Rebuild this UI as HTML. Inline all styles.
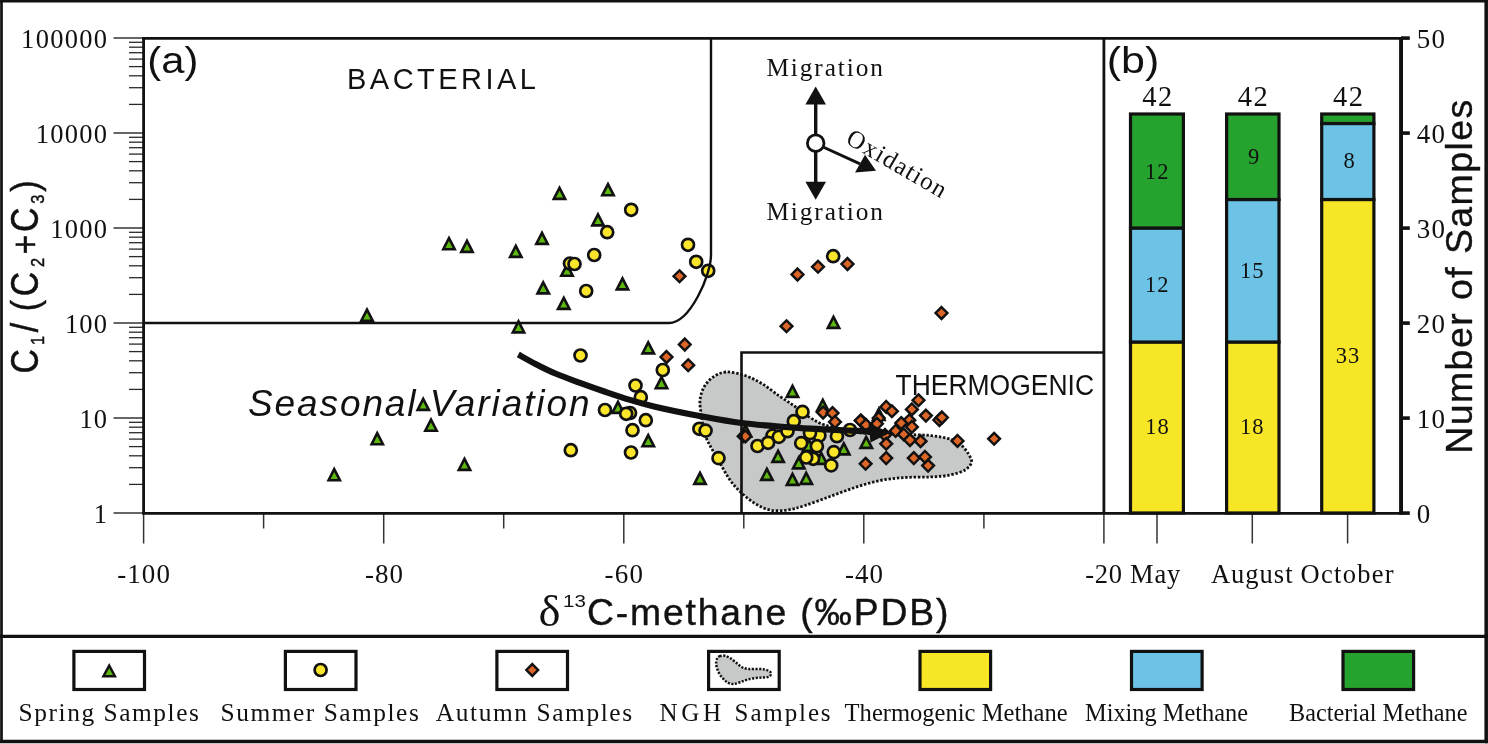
<!DOCTYPE html>
<html><head><meta charset="utf-8"><title>Figure</title>
<style>html,body{margin:0;padding:0;background:#fff}svg{display:block}</style></head>
<body>
<svg width="1488" height="744" viewBox="0 0 1488 744">
<rect x="0" y="0" width="1488" height="744" fill="#fff"/>
<path d="M0,1.25 H1488 M1.5,0 V743 M1486.2,0 V743.2 M0,741.5 H1488" fill="none" stroke="#111" stroke-width="2.7"/><path d="M1486.2,0 V743.2 M0,741.5 H1488" fill="none" stroke="#111" stroke-width="3.4"/>
<line x1="0" y1="636.4" x2="1488" y2="636.4" stroke="#111" stroke-width="3.2"/>
<line x1="113.5" y1="513.0" x2="143.6" y2="513.0" stroke="#333" stroke-width="1.5"/>
<line x1="129" y1="484.4" x2="143.6" y2="484.4" stroke="#2a2a2a" stroke-width="1.3"/>
<line x1="129" y1="467.7" x2="143.6" y2="467.7" stroke="#2a2a2a" stroke-width="1.3"/>
<line x1="129" y1="455.8" x2="143.6" y2="455.8" stroke="#2a2a2a" stroke-width="1.3"/>
<line x1="129" y1="446.6" x2="143.6" y2="446.6" stroke="#2a2a2a" stroke-width="1.3"/>
<line x1="129" y1="439.1" x2="143.6" y2="439.1" stroke="#2a2a2a" stroke-width="1.3"/>
<line x1="129" y1="432.7" x2="143.6" y2="432.7" stroke="#2a2a2a" stroke-width="1.3"/>
<line x1="129" y1="427.2" x2="143.6" y2="427.2" stroke="#2a2a2a" stroke-width="1.3"/>
<line x1="129" y1="422.3" x2="143.6" y2="422.3" stroke="#2a2a2a" stroke-width="1.3"/>
<line x1="113.5" y1="418.0" x2="143.6" y2="418.0" stroke="#333" stroke-width="1.5"/>
<line x1="129" y1="389.4" x2="143.6" y2="389.4" stroke="#2a2a2a" stroke-width="1.3"/>
<line x1="129" y1="372.7" x2="143.6" y2="372.7" stroke="#2a2a2a" stroke-width="1.3"/>
<line x1="129" y1="360.8" x2="143.6" y2="360.8" stroke="#2a2a2a" stroke-width="1.3"/>
<line x1="129" y1="351.6" x2="143.6" y2="351.6" stroke="#2a2a2a" stroke-width="1.3"/>
<line x1="129" y1="344.1" x2="143.6" y2="344.1" stroke="#2a2a2a" stroke-width="1.3"/>
<line x1="129" y1="337.7" x2="143.6" y2="337.7" stroke="#2a2a2a" stroke-width="1.3"/>
<line x1="129" y1="332.2" x2="143.6" y2="332.2" stroke="#2a2a2a" stroke-width="1.3"/>
<line x1="129" y1="327.3" x2="143.6" y2="327.3" stroke="#2a2a2a" stroke-width="1.3"/>
<line x1="113.5" y1="323.0" x2="143.6" y2="323.0" stroke="#333" stroke-width="1.5"/>
<line x1="129" y1="294.4" x2="143.6" y2="294.4" stroke="#2a2a2a" stroke-width="1.3"/>
<line x1="129" y1="277.7" x2="143.6" y2="277.7" stroke="#2a2a2a" stroke-width="1.3"/>
<line x1="129" y1="265.8" x2="143.6" y2="265.8" stroke="#2a2a2a" stroke-width="1.3"/>
<line x1="129" y1="256.6" x2="143.6" y2="256.6" stroke="#2a2a2a" stroke-width="1.3"/>
<line x1="129" y1="249.1" x2="143.6" y2="249.1" stroke="#2a2a2a" stroke-width="1.3"/>
<line x1="129" y1="242.7" x2="143.6" y2="242.7" stroke="#2a2a2a" stroke-width="1.3"/>
<line x1="129" y1="237.2" x2="143.6" y2="237.2" stroke="#2a2a2a" stroke-width="1.3"/>
<line x1="129" y1="232.3" x2="143.6" y2="232.3" stroke="#2a2a2a" stroke-width="1.3"/>
<line x1="113.5" y1="228.0" x2="143.6" y2="228.0" stroke="#333" stroke-width="1.5"/>
<line x1="129" y1="199.4" x2="143.6" y2="199.4" stroke="#2a2a2a" stroke-width="1.3"/>
<line x1="129" y1="182.7" x2="143.6" y2="182.7" stroke="#2a2a2a" stroke-width="1.3"/>
<line x1="129" y1="170.8" x2="143.6" y2="170.8" stroke="#2a2a2a" stroke-width="1.3"/>
<line x1="129" y1="161.6" x2="143.6" y2="161.6" stroke="#2a2a2a" stroke-width="1.3"/>
<line x1="129" y1="154.1" x2="143.6" y2="154.1" stroke="#2a2a2a" stroke-width="1.3"/>
<line x1="129" y1="147.7" x2="143.6" y2="147.7" stroke="#2a2a2a" stroke-width="1.3"/>
<line x1="129" y1="142.2" x2="143.6" y2="142.2" stroke="#2a2a2a" stroke-width="1.3"/>
<line x1="129" y1="137.3" x2="143.6" y2="137.3" stroke="#2a2a2a" stroke-width="1.3"/>
<line x1="113.5" y1="133.0" x2="143.6" y2="133.0" stroke="#333" stroke-width="1.5"/>
<line x1="129" y1="104.4" x2="143.6" y2="104.4" stroke="#2a2a2a" stroke-width="1.3"/>
<line x1="129" y1="87.7" x2="143.6" y2="87.7" stroke="#2a2a2a" stroke-width="1.3"/>
<line x1="129" y1="75.8" x2="143.6" y2="75.8" stroke="#2a2a2a" stroke-width="1.3"/>
<line x1="129" y1="66.6" x2="143.6" y2="66.6" stroke="#2a2a2a" stroke-width="1.3"/>
<line x1="129" y1="59.1" x2="143.6" y2="59.1" stroke="#2a2a2a" stroke-width="1.3"/>
<line x1="129" y1="52.7" x2="143.6" y2="52.7" stroke="#2a2a2a" stroke-width="1.3"/>
<line x1="129" y1="47.2" x2="143.6" y2="47.2" stroke="#2a2a2a" stroke-width="1.3"/>
<line x1="129" y1="42.3" x2="143.6" y2="42.3" stroke="#2a2a2a" stroke-width="1.3"/>
<line x1="113.5" y1="38.0" x2="143.6" y2="38.0" stroke="#333" stroke-width="1.5"/>
<line x1="143.6" y1="513" x2="143.6" y2="543.5" stroke="#333" stroke-width="1.5"/>
<line x1="263.6" y1="513" x2="263.6" y2="528.5" stroke="#333" stroke-width="1.5"/>
<line x1="383.7" y1="513" x2="383.7" y2="543.5" stroke="#333" stroke-width="1.5"/>
<line x1="503.7" y1="513" x2="503.7" y2="528.5" stroke="#333" stroke-width="1.5"/>
<line x1="623.8" y1="513" x2="623.8" y2="543.5" stroke="#333" stroke-width="1.5"/>
<line x1="743.8" y1="513" x2="743.8" y2="528.5" stroke="#333" stroke-width="1.5"/>
<line x1="863.8" y1="513" x2="863.8" y2="543.5" stroke="#333" stroke-width="1.5"/>
<line x1="983.9" y1="513" x2="983.9" y2="528.5" stroke="#333" stroke-width="1.5"/>
<line x1="1103.9" y1="513" x2="1103.9" y2="543.5" stroke="#333" stroke-width="1.5"/>
<line x1="1157" y1="513" x2="1157" y2="543.5" stroke="#333" stroke-width="1.5"/>
<line x1="1252.3" y1="513" x2="1252.3" y2="543.5" stroke="#333" stroke-width="1.5"/>
<line x1="1347.6" y1="513" x2="1347.6" y2="543.5" stroke="#333" stroke-width="1.5"/>
<path d="M726.0,372.0C720.6,372.3 716.2,374.9 712.5,377.5C708.8,380.1 705.8,383.8 703.8,387.5C701.7,391.2 700.5,395.8 700.0,400.0C699.5,404.2 700.5,408.7 701.0,413.0C701.5,417.3 702.1,421.8 703.0,426.0C703.9,430.2 704.9,434.5 706.5,438.5C708.1,442.5 710.1,445.6 712.5,450.0C714.9,454.4 718.1,460.0 721.0,465.0C723.9,470.0 726.7,475.4 730.0,480.0C733.3,484.6 736.8,488.6 741.0,492.5C745.2,496.4 750.2,500.6 755.0,503.5C759.8,506.4 764.6,508.9 770.0,510.0C775.4,511.1 781.7,510.8 787.5,510.0C793.3,509.2 797.9,507.8 805.0,505.5C812.1,503.2 821.7,499.5 830.0,496.5C838.3,493.5 846.7,490.2 855.0,487.5C863.3,484.8 871.7,482.2 880.0,480.5C888.3,478.8 896.7,478.1 905.0,477.5C913.3,476.9 922.5,477.4 930.0,477.0C937.5,476.6 944.2,476.2 950.0,475.0C955.8,473.8 961.4,472.2 965.0,470.0C968.6,467.8 971.1,464.9 971.5,462.0C971.9,459.1 969.4,455.5 967.5,452.5C965.6,449.5 962.9,446.2 960.0,444.0C957.1,441.8 955.0,440.4 950.0,439.0C945.0,437.6 937.5,436.2 930.0,435.5C922.5,434.8 913.3,434.8 905.0,434.5C896.7,434.2 888.3,434.4 880.0,434.0C871.7,433.6 864.2,433.5 855.0,432.0C845.8,430.5 832.5,427.4 825.0,425.0C817.5,422.6 815.0,420.6 810.0,417.5C805.0,414.4 800.0,410.0 795.0,406.5C790.0,403.0 785.4,400.2 780.0,396.5C774.6,392.8 768.3,387.5 762.5,384.0C756.7,380.5 751.1,377.5 745.0,375.5C738.9,373.5 731.4,371.7 726.0,372.0Z" fill="#c6c9c8" stroke="#111" stroke-width="2.8" stroke-dasharray="2.4 1.8"/>
<path d="M367.0,309.6 L372.7,320.7 L361.3,320.7 Z" fill="#5cb80f" stroke="#111" stroke-width="2.6" stroke-linejoin="miter"/>
<path d="M449.0,238.2 L454.7,249.2 L443.3,249.2 Z" fill="#5cb80f" stroke="#111" stroke-width="2.6" stroke-linejoin="miter"/>
<path d="M467.0,240.9 L472.7,251.9 L461.3,251.9 Z" fill="#5cb80f" stroke="#111" stroke-width="2.6" stroke-linejoin="miter"/>
<path d="M515.8,245.9 L521.5,256.9 L510.1,256.9 Z" fill="#5cb80f" stroke="#111" stroke-width="2.6" stroke-linejoin="miter"/>
<path d="M542.0,232.9 L547.7,243.9 L536.3,243.9 Z" fill="#5cb80f" stroke="#111" stroke-width="2.6" stroke-linejoin="miter"/>
<path d="M559.5,187.9 L565.2,198.9 L553.8,198.9 Z" fill="#5cb80f" stroke="#111" stroke-width="2.6" stroke-linejoin="miter"/>
<path d="M608.0,184.2 L613.7,195.2 L602.3,195.2 Z" fill="#5cb80f" stroke="#111" stroke-width="2.6" stroke-linejoin="miter"/>
<path d="M598.0,214.4 L603.7,225.4 L592.3,225.4 Z" fill="#5cb80f" stroke="#111" stroke-width="2.6" stroke-linejoin="miter"/>
<path d="M567.0,264.6 L572.7,275.7 L561.3,275.7 Z" fill="#5cb80f" stroke="#111" stroke-width="2.6" stroke-linejoin="miter"/>
<path d="M543.2,282.4 L549.0,293.4 L537.5,293.4 Z" fill="#5cb80f" stroke="#111" stroke-width="2.6" stroke-linejoin="miter"/>
<path d="M563.8,297.9 L569.5,308.9 L558.0,308.9 Z" fill="#5cb80f" stroke="#111" stroke-width="2.6" stroke-linejoin="miter"/>
<path d="M622.5,278.4 L628.2,289.4 L616.8,289.4 Z" fill="#5cb80f" stroke="#111" stroke-width="2.6" stroke-linejoin="miter"/>
<path d="M518.5,321.4 L524.2,332.4 L512.8,332.4 Z" fill="#5cb80f" stroke="#111" stroke-width="2.6" stroke-linejoin="miter"/>
<path d="M648.2,342.4 L654.0,353.4 L642.5,353.4 Z" fill="#5cb80f" stroke="#111" stroke-width="2.6" stroke-linejoin="miter"/>
<path d="M334.2,469.1 L339.9,480.2 L328.6,480.2 Z" fill="#5cb80f" stroke="#111" stroke-width="2.6" stroke-linejoin="miter"/>
<path d="M377.2,433.1 L382.9,444.2 L371.6,444.2 Z" fill="#5cb80f" stroke="#111" stroke-width="2.6" stroke-linejoin="miter"/>
<path d="M423.2,398.9 L428.9,409.9 L417.6,409.9 Z" fill="#5cb80f" stroke="#111" stroke-width="2.6" stroke-linejoin="miter"/>
<path d="M431.0,419.6 L436.7,430.7 L425.3,430.7 Z" fill="#5cb80f" stroke="#111" stroke-width="2.6" stroke-linejoin="miter"/>
<path d="M464.5,458.9 L470.2,469.9 L458.8,469.9 Z" fill="#5cb80f" stroke="#111" stroke-width="2.6" stroke-linejoin="miter"/>
<path d="M661.5,377.1 L667.2,388.2 L655.8,388.2 Z" fill="#5cb80f" stroke="#111" stroke-width="2.6" stroke-linejoin="miter"/>
<path d="M618.0,401.9 L623.7,412.9 L612.3,412.9 Z" fill="#5cb80f" stroke="#111" stroke-width="2.6" stroke-linejoin="miter"/>
<path d="M648.2,435.1 L654.0,446.2 L642.5,446.2 Z" fill="#5cb80f" stroke="#111" stroke-width="2.6" stroke-linejoin="miter"/>
<path d="M833.5,316.9 L839.2,327.9 L827.8,327.9 Z" fill="#5cb80f" stroke="#111" stroke-width="2.6" stroke-linejoin="miter"/>
<path d="M792.5,385.9 L798.2,396.9 L786.8,396.9 Z" fill="#5cb80f" stroke="#111" stroke-width="2.6" stroke-linejoin="miter"/>
<path d="M822.8,399.9 L828.5,410.9 L817.0,410.9 Z" fill="#5cb80f" stroke="#111" stroke-width="2.6" stroke-linejoin="miter"/>
<path d="M778.1,450.9 L783.8,461.9 L772.4,461.9 Z" fill="#5cb80f" stroke="#111" stroke-width="2.6" stroke-linejoin="miter"/>
<path d="M766.9,468.9 L772.6,479.9 L761.2,479.9 Z" fill="#5cb80f" stroke="#111" stroke-width="2.6" stroke-linejoin="miter"/>
<path d="M700.0,472.9 L705.7,483.9 L694.3,483.9 Z" fill="#5cb80f" stroke="#111" stroke-width="2.6" stroke-linejoin="miter"/>
<path d="M792.5,473.9 L798.2,484.9 L786.8,484.9 Z" fill="#5cb80f" stroke="#111" stroke-width="2.6" stroke-linejoin="miter"/>
<path d="M806.2,472.9 L812.0,483.9 L800.5,483.9 Z" fill="#5cb80f" stroke="#111" stroke-width="2.6" stroke-linejoin="miter"/>
<path d="M798.8,457.4 L804.5,468.4 L793.0,468.4 Z" fill="#5cb80f" stroke="#111" stroke-width="2.6" stroke-linejoin="miter"/>
<path d="M843.8,443.4 L849.5,454.4 L838.0,454.4 Z" fill="#5cb80f" stroke="#111" stroke-width="2.6" stroke-linejoin="miter"/>
<path d="M866.2,436.9 L872.0,447.9 L860.5,447.9 Z" fill="#5cb80f" stroke="#111" stroke-width="2.6" stroke-linejoin="miter"/>
<path d="M821.2,452.9 L827.0,463.9 L815.5,463.9 Z" fill="#5cb80f" stroke="#111" stroke-width="2.6" stroke-linejoin="miter"/>
<path d="M808.8,439.9 L814.5,450.9 L803.0,450.9 Z" fill="#5cb80f" stroke="#111" stroke-width="2.6" stroke-linejoin="miter"/>
<path d="M745.5,425.4 L751.2,436.4 L739.8,436.4 Z" fill="#5cb80f" stroke="#111" stroke-width="2.6" stroke-linejoin="miter"/>
<path d="M878.8,408.9 L884.5,419.9 L873.0,419.9 Z" fill="#5cb80f" stroke="#111" stroke-width="2.6" stroke-linejoin="miter"/>
<path d="M679.5,270.4 L685.4,276.2 L679.5,282.1 L673.6,276.2 Z" fill="#dc6628" stroke="#111" stroke-width="2.45"/>
<path d="M684.8,338.6 L690.6,344.5 L684.8,350.4 L678.9,344.5 Z" fill="#dc6628" stroke="#111" stroke-width="2.45"/>
<path d="M666.5,351.1 L672.4,357.0 L666.5,362.9 L660.6,357.0 Z" fill="#dc6628" stroke="#111" stroke-width="2.45"/>
<path d="M688.2,359.4 L694.1,365.2 L688.2,371.1 L682.4,365.2 Z" fill="#dc6628" stroke="#111" stroke-width="2.45"/>
<path d="M797.5,268.6 L803.4,274.5 L797.5,280.4 L791.6,274.5 Z" fill="#dc6628" stroke="#111" stroke-width="2.45"/>
<path d="M818.0,260.9 L823.9,266.8 L818.0,272.6 L812.1,266.8 Z" fill="#dc6628" stroke="#111" stroke-width="2.45"/>
<path d="M847.5,258.1 L853.4,264.0 L847.5,269.9 L841.6,264.0 Z" fill="#dc6628" stroke="#111" stroke-width="2.45"/>
<path d="M786.5,320.4 L792.4,326.2 L786.5,332.1 L780.6,326.2 Z" fill="#dc6628" stroke="#111" stroke-width="2.45"/>
<path d="M941.5,307.1 L947.4,313.0 L941.5,318.9 L935.6,313.0 Z" fill="#dc6628" stroke="#111" stroke-width="2.45"/>
<path d="M743.6,430.3 L749.5,436.2 L743.6,442.1 L737.8,436.2 Z" fill="#dc6628" stroke="#111" stroke-width="2.45"/>
<path d="M745.4,430.5 L751.2,436.4 L745.4,442.2 L739.5,436.4 Z" fill="#dc6628" stroke="#111" stroke-width="2.45"/>
<path d="M823.1,406.6 L829.0,412.5 L823.1,418.4 L817.2,412.5 Z" fill="#dc6628" stroke="#111" stroke-width="2.45"/>
<path d="M832.5,407.2 L838.4,413.1 L832.5,419.0 L826.6,413.1 Z" fill="#dc6628" stroke="#111" stroke-width="2.45"/>
<path d="M835.0,416.0 L840.9,421.9 L835.0,427.8 L829.1,421.9 Z" fill="#dc6628" stroke="#111" stroke-width="2.45"/>
<path d="M861.2,414.8 L867.1,420.6 L861.2,426.5 L855.4,420.6 Z" fill="#dc6628" stroke="#111" stroke-width="2.45"/>
<path d="M865.6,457.9 L871.5,463.8 L865.6,469.6 L859.8,463.8 Z" fill="#dc6628" stroke="#111" stroke-width="2.45"/>
<path d="M886.2,401.0 L892.1,406.9 L886.2,412.8 L880.4,406.9 Z" fill="#dc6628" stroke="#111" stroke-width="2.45"/>
<path d="M939.4,414.1 L945.2,420.0 L939.4,425.9 L933.5,420.0 Z" fill="#dc6628" stroke="#111" stroke-width="2.45"/>
<path d="M918.5,394.4 L924.4,400.2 L918.5,406.1 L912.6,400.2 Z" fill="#dc6628" stroke="#111" stroke-width="2.45"/>
<path d="M911.9,403.5 L917.8,409.4 L911.9,415.2 L906.0,409.4 Z" fill="#dc6628" stroke="#111" stroke-width="2.45"/>
<path d="M891.9,405.4 L897.8,411.2 L891.9,417.1 L886.0,411.2 Z" fill="#dc6628" stroke="#111" stroke-width="2.45"/>
<path d="M925.9,409.8 L931.8,415.6 L925.9,421.5 L920.0,415.6 Z" fill="#dc6628" stroke="#111" stroke-width="2.45"/>
<path d="M941.9,411.6 L947.8,417.5 L941.9,423.4 L936.0,417.5 Z" fill="#dc6628" stroke="#111" stroke-width="2.45"/>
<path d="M860.6,414.8 L866.5,420.6 L860.6,426.5 L854.8,420.6 Z" fill="#dc6628" stroke="#111" stroke-width="2.45"/>
<path d="M878.8,412.2 L884.6,418.1 L878.8,424.0 L872.9,418.1 Z" fill="#dc6628" stroke="#111" stroke-width="2.45"/>
<path d="M909.4,414.4 L915.2,420.2 L909.4,426.1 L903.5,420.2 Z" fill="#dc6628" stroke="#111" stroke-width="2.45"/>
<path d="M901.2,417.2 L907.1,423.1 L901.2,429.0 L895.4,423.1 Z" fill="#dc6628" stroke="#111" stroke-width="2.45"/>
<path d="M911.9,421.0 L917.8,426.9 L911.9,432.8 L906.0,426.9 Z" fill="#dc6628" stroke="#111" stroke-width="2.45"/>
<path d="M876.9,417.9 L882.8,423.8 L876.9,429.6 L871.0,423.8 Z" fill="#dc6628" stroke="#111" stroke-width="2.45"/>
<path d="M866.0,419.1 L871.9,425.0 L866.0,430.9 L860.1,425.0 Z" fill="#dc6628" stroke="#111" stroke-width="2.45"/>
<path d="M895.6,425.0 L901.5,430.9 L895.6,436.8 L889.8,430.9 Z" fill="#dc6628" stroke="#111" stroke-width="2.45"/>
<path d="M903.8,428.5 L909.6,434.4 L903.8,440.2 L897.9,434.4 Z" fill="#dc6628" stroke="#111" stroke-width="2.45"/>
<path d="M885.0,429.1 L890.9,435.0 L885.0,440.9 L879.1,435.0 Z" fill="#dc6628" stroke="#111" stroke-width="2.45"/>
<path d="M910.0,434.1 L915.9,440.0 L910.0,445.9 L904.1,440.0 Z" fill="#dc6628" stroke="#111" stroke-width="2.45"/>
<path d="M920.6,435.4 L926.5,441.2 L920.6,447.1 L914.8,441.2 Z" fill="#dc6628" stroke="#111" stroke-width="2.45"/>
<path d="M886.2,437.9 L892.1,443.8 L886.2,449.6 L880.4,443.8 Z" fill="#dc6628" stroke="#111" stroke-width="2.45"/>
<path d="M957.5,435.0 L963.4,440.9 L957.5,446.8 L951.6,440.9 Z" fill="#dc6628" stroke="#111" stroke-width="2.45"/>
<path d="M994.1,432.9 L1000.0,438.8 L994.1,444.6 L988.2,438.8 Z" fill="#dc6628" stroke="#111" stroke-width="2.45"/>
<path d="M886.2,452.2 L892.1,458.1 L886.2,464.0 L880.4,458.1 Z" fill="#dc6628" stroke="#111" stroke-width="2.45"/>
<path d="M913.8,452.2 L919.6,458.1 L913.8,464.0 L907.9,458.1 Z" fill="#dc6628" stroke="#111" stroke-width="2.45"/>
<path d="M925.0,451.0 L930.9,456.9 L925.0,462.8 L919.1,456.9 Z" fill="#dc6628" stroke="#111" stroke-width="2.45"/>
<path d="M928.1,459.8 L934.0,465.6 L928.1,471.5 L922.2,465.6 Z" fill="#dc6628" stroke="#111" stroke-width="2.45"/>
<circle cx="631.2" cy="209.8" r="6.0" fill="#fbe52a" stroke="#111" stroke-width="2.7"/>
<circle cx="607.2" cy="232.2" r="6.0" fill="#fbe52a" stroke="#111" stroke-width="2.7"/>
<circle cx="594.2" cy="255.0" r="6.0" fill="#fbe52a" stroke="#111" stroke-width="2.7"/>
<circle cx="570.0" cy="263.5" r="6.0" fill="#fbe52a" stroke="#111" stroke-width="2.7"/>
<circle cx="574.5" cy="264.0" r="6.0" fill="#fbe52a" stroke="#111" stroke-width="2.7"/>
<circle cx="586.2" cy="291.0" r="6.0" fill="#fbe52a" stroke="#111" stroke-width="2.7"/>
<circle cx="688.0" cy="244.8" r="6.0" fill="#fbe52a" stroke="#111" stroke-width="2.7"/>
<circle cx="580.5" cy="355.5" r="6.0" fill="#fbe52a" stroke="#111" stroke-width="2.7"/>
<circle cx="662.8" cy="370.0" r="6.0" fill="#fbe52a" stroke="#111" stroke-width="2.7"/>
<circle cx="635.5" cy="385.5" r="6.0" fill="#fbe52a" stroke="#111" stroke-width="2.7"/>
<circle cx="640.8" cy="397.2" r="6.0" fill="#fbe52a" stroke="#111" stroke-width="2.7"/>
<circle cx="605.0" cy="410.0" r="6.0" fill="#fbe52a" stroke="#111" stroke-width="2.7"/>
<circle cx="630.0" cy="413.0" r="6.0" fill="#fbe52a" stroke="#111" stroke-width="2.7"/>
<circle cx="626.2" cy="413.8" r="6.0" fill="#fbe52a" stroke="#111" stroke-width="2.7"/>
<circle cx="645.8" cy="420.2" r="6.0" fill="#fbe52a" stroke="#111" stroke-width="2.7"/>
<circle cx="632.5" cy="430.2" r="6.0" fill="#fbe52a" stroke="#111" stroke-width="2.7"/>
<circle cx="570.8" cy="450.2" r="6.0" fill="#fbe52a" stroke="#111" stroke-width="2.7"/>
<circle cx="631.0" cy="452.5" r="6.0" fill="#fbe52a" stroke="#111" stroke-width="2.7"/>
<circle cx="696.2" cy="261.8" r="6.0" fill="#fbe52a" stroke="#111" stroke-width="2.7"/>
<circle cx="708.2" cy="270.8" r="6.0" fill="#fbe52a" stroke="#111" stroke-width="2.7"/>
<circle cx="833.2" cy="256.2" r="6.0" fill="#fbe52a" stroke="#111" stroke-width="2.7"/>
<circle cx="699.4" cy="428.8" r="6.0" fill="#fbe52a" stroke="#111" stroke-width="2.7"/>
<circle cx="705.6" cy="430.6" r="6.0" fill="#fbe52a" stroke="#111" stroke-width="2.7"/>
<circle cx="718.5" cy="458.1" r="6.0" fill="#fbe52a" stroke="#111" stroke-width="2.7"/>
<circle cx="772.5" cy="435.6" r="6.0" fill="#fbe52a" stroke="#111" stroke-width="2.7"/>
<circle cx="778.8" cy="436.9" r="6.0" fill="#fbe52a" stroke="#111" stroke-width="2.7"/>
<circle cx="757.5" cy="446.0" r="6.0" fill="#fbe52a" stroke="#111" stroke-width="2.7"/>
<circle cx="768.1" cy="442.8" r="6.0" fill="#fbe52a" stroke="#111" stroke-width="2.7"/>
<circle cx="787.5" cy="431.2" r="6.0" fill="#fbe52a" stroke="#111" stroke-width="2.7"/>
<circle cx="793.8" cy="421.2" r="6.0" fill="#fbe52a" stroke="#111" stroke-width="2.7"/>
<circle cx="802.5" cy="411.9" r="6.0" fill="#fbe52a" stroke="#111" stroke-width="2.7"/>
<circle cx="819.4" cy="435.6" r="6.0" fill="#fbe52a" stroke="#111" stroke-width="2.7"/>
<circle cx="810.0" cy="433.1" r="6.0" fill="#fbe52a" stroke="#111" stroke-width="2.7"/>
<circle cx="801.2" cy="443.1" r="6.0" fill="#fbe52a" stroke="#111" stroke-width="2.7"/>
<circle cx="816.9" cy="446.2" r="6.0" fill="#fbe52a" stroke="#111" stroke-width="2.7"/>
<circle cx="813.1" cy="458.8" r="6.0" fill="#fbe52a" stroke="#111" stroke-width="2.7"/>
<circle cx="806.2" cy="457.5" r="6.0" fill="#fbe52a" stroke="#111" stroke-width="2.7"/>
<circle cx="833.8" cy="452.1" r="6.0" fill="#fbe52a" stroke="#111" stroke-width="2.7"/>
<circle cx="831.2" cy="465.4" r="6.0" fill="#fbe52a" stroke="#111" stroke-width="2.7"/>
<circle cx="836.9" cy="436.2" r="6.0" fill="#fbe52a" stroke="#111" stroke-width="2.7"/>
<circle cx="850.0" cy="430.0" r="6.0" fill="#fbe52a" stroke="#111" stroke-width="2.7"/>
<path d="M143.6,38.35 L143.6,513.4 M142.1,513.4 L1401,513.4 M1103.9,38.35 L1103.9,513.4" fill="none" stroke="#111" stroke-width="2.8"/>
<path d="M143.6,323 L669,323 C690,323 711,275 711,255 L711,38" fill="none" stroke="#111" stroke-width="2.4"/>
<path d="M741.5,513 L741.5,352.5 L1103.9,352.5" fill="none" stroke="#111" stroke-width="2.6"/>
<path d="M518.3,354.5C521.2,356.1 529.8,361.0 536.0,364.2C542.2,367.4 548.1,370.4 555.4,373.5C562.7,376.6 571.6,379.8 580.0,382.9C588.4,386.0 597.5,389.2 605.8,392.0C614.1,394.8 621.8,397.4 630.0,399.9C638.2,402.3 643.4,404.0 655.0,406.7C666.6,409.4 685.3,413.3 699.7,416.0C714.1,418.7 725.9,421.1 741.6,423.0C757.3,424.9 775.9,426.3 794.0,427.6C812.1,428.9 836.8,430.0 850.0,430.6C863.2,431.2 869.2,431.4 873.0,431.5" fill="none" stroke="#111" stroke-width="6.1" stroke-linecap="butt"/>
<path d="M890.5,432.5 L868.5,423.5 L870.5,442.5 Z" fill="#111"/>
<line x1="815.7" y1="100" x2="815.7" y2="186" stroke="#111" stroke-width="3.4"/>
<path d="M815.7,86.5 L826,104.5 L805.4,104.5 Z" fill="#111"/>
<path d="M815.7,199.8 L826,181.8 L805.4,181.8 Z" fill="#111"/>
<line x1="822" y1="146.5" x2="860" y2="163.8" stroke="#111" stroke-width="3"/>
<path d="M876,170.8 L855,172.4 L865,154.8 Z" fill="#111"/>
<circle cx="815.7" cy="143.2" r="8.3" fill="#fff" stroke="#111" stroke-width="2.8"/>
<rect x="1130.5" y="342.0" width="52.90000000000009" height="171.0" fill="#f7e626" stroke="#111" stroke-width="3.2"/><rect x="1130.5" y="228.0" width="52.90000000000009" height="114.0" fill="#6dc3e6" stroke="#111" stroke-width="3.2"/><rect x="1130.5" y="114.0" width="52.90000000000009" height="114.0" fill="#26a22e" stroke="#111" stroke-width="3.2"/>
<rect x="1226.6" y="342.0" width="52.40000000000009" height="171.0" fill="#f7e626" stroke="#111" stroke-width="3.2"/><rect x="1226.6" y="199.5" width="52.40000000000009" height="142.5" fill="#6dc3e6" stroke="#111" stroke-width="3.2"/><rect x="1226.6" y="114.0" width="52.40000000000009" height="85.5" fill="#26a22e" stroke="#111" stroke-width="3.2"/>
<rect x="1321.7" y="199.5" width="52.200000000000045" height="313.5" fill="#f7e626" stroke="#111" stroke-width="3.2"/><rect x="1321.7" y="123.5" width="52.200000000000045" height="76.0" fill="#6dc3e6" stroke="#111" stroke-width="3.2"/><rect x="1321.7" y="114.0" width="52.200000000000045" height="9.5" fill="#26a22e" stroke="#111" stroke-width="3.2"/>
<path d="M142.1,38.35 L1401,38.35" fill="none" stroke="#111" stroke-width="2.9"/><path d="M1401.05,36.9 L1401.05,514.8" fill="none" stroke="#111" stroke-width="3.9"/>
<line x1="1401" y1="513.1" x2="1409.8" y2="513.1" stroke="#111" stroke-width="3.6"/>
<line x1="1401" y1="418.1" x2="1409.8" y2="418.1" stroke="#111" stroke-width="3.6"/>
<line x1="1401" y1="323.1" x2="1409.8" y2="323.1" stroke="#111" stroke-width="3.6"/>
<line x1="1401" y1="228.1" x2="1409.8" y2="228.1" stroke="#111" stroke-width="3.6"/>
<line x1="1401" y1="133.1" x2="1409.8" y2="133.1" stroke="#111" stroke-width="3.6"/>
<line x1="1401" y1="38.1" x2="1409.8" y2="38.1" stroke="#111" stroke-width="3.6"/>
<text x="107" y="522.6" font-size="26.5" font-family="Liberation Serif, Times New Roman, serif" text-anchor="end" fill="#111" >1</text>
<text x="107.0" y="427.6" font-size="26.5" font-family="Liberation Serif, Times New Roman, serif" text-anchor="end" fill="#111" textLength="27.5" lengthAdjust="spacing">10</text>
<text x="107.0" y="332.6" font-size="26.5" font-family="Liberation Serif, Times New Roman, serif" text-anchor="end" fill="#111" textLength="42.1" lengthAdjust="spacing">100</text>
<text x="107.0" y="237.6" font-size="26.5" font-family="Liberation Serif, Times New Roman, serif" text-anchor="end" fill="#111" textLength="56.7" lengthAdjust="spacing">1000</text>
<text x="107.0" y="142.6" font-size="26.5" font-family="Liberation Serif, Times New Roman, serif" text-anchor="end" fill="#111" textLength="71.3" lengthAdjust="spacing">10000</text>
<text x="107.0" y="47.6" font-size="26.5" font-family="Liberation Serif, Times New Roman, serif" text-anchor="end" fill="#111" textLength="85.9" lengthAdjust="spacing">100000</text>
<text x="117.3" y="582.8" font-size="27" font-family="Liberation Serif, Times New Roman, serif" text-anchor="start" fill="#111" textLength="52.6" lengthAdjust="spacing">-100</text>
<text x="365" y="582.8" font-size="27" font-family="Liberation Serif, Times New Roman, serif" text-anchor="start" fill="#111" textLength="38" lengthAdjust="spacing">-80</text>
<text x="604.5" y="582.8" font-size="27" font-family="Liberation Serif, Times New Roman, serif" text-anchor="start" fill="#111" textLength="38.6" lengthAdjust="spacing">-60</text>
<text x="845" y="582.8" font-size="27" font-family="Liberation Serif, Times New Roman, serif" text-anchor="start" fill="#111" textLength="38" lengthAdjust="spacing">-40</text>
<text x="1085.2" y="582.8" font-size="26.5" font-family="Liberation Serif, Times New Roman, serif" text-anchor="start" fill="#111" textLength="95" lengthAdjust="spacing">-20 May</text>
<text x="1211" y="582.8" font-size="26.5" font-family="Liberation Serif, Times New Roman, serif" text-anchor="start" fill="#111" textLength="81.5" lengthAdjust="spacing">August</text>
<text x="1300.6" y="582.8" font-size="26.5" font-family="Liberation Serif, Times New Roman, serif" text-anchor="start" fill="#111" textLength="93" lengthAdjust="spacing">October</text>
<text x="1416.8" y="523.0" font-size="27" font-family="Liberation Serif, Times New Roman, serif" text-anchor="start" fill="#111" letter-spacing="1.2">0</text>
<text x="1416.8" y="428.0" font-size="27" font-family="Liberation Serif, Times New Roman, serif" text-anchor="start" fill="#111" letter-spacing="1.2">10</text>
<text x="1416.8" y="333.0" font-size="27" font-family="Liberation Serif, Times New Roman, serif" text-anchor="start" fill="#111" letter-spacing="1.2">20</text>
<text x="1416.8" y="238.0" font-size="27" font-family="Liberation Serif, Times New Roman, serif" text-anchor="start" fill="#111" letter-spacing="1.2">30</text>
<text x="1416.8" y="143.0" font-size="27" font-family="Liberation Serif, Times New Roman, serif" text-anchor="start" fill="#111" letter-spacing="1.2">40</text>
<text x="1416.8" y="48.0" font-size="27" font-family="Liberation Serif, Times New Roman, serif" text-anchor="start" fill="#111" letter-spacing="1.2">50</text>
<text x="147.3" y="73.3" font-size="37.5" font-family="Liberation Sans, Arial, sans-serif" text-anchor="start" fill="#111" textLength="51" lengthAdjust="spacingAndGlyphs">(a)</text>
<text x="1106.8" y="72.6" font-size="37.5" font-family="Liberation Sans, Arial, sans-serif" text-anchor="start" fill="#111" textLength="52.5" lengthAdjust="spacingAndGlyphs">(b)</text>
<text x="347" y="89.3" font-size="29" font-family="Liberation Sans, Arial, sans-serif" text-anchor="start" fill="#111" textLength="189" lengthAdjust="spacing">BACTERIAL</text>
<text x="895.5" y="394.8" font-size="30" font-family="Liberation Sans, Arial, sans-serif" text-anchor="start" fill="#111" textLength="198.5" lengthAdjust="spacingAndGlyphs">THERMOGENIC</text>
<text x="248" y="415.8" font-size="37" font-family="Liberation Sans, Arial, sans-serif" text-anchor="start" fill="#111" font-style="italic" textLength="341.5" lengthAdjust="spacing">Seasonal Variation</text>
<text x="766.4" y="75.8" font-size="25.3" font-family="Liberation Serif, Times New Roman, serif" text-anchor="start" fill="#111" textLength="116.6" lengthAdjust="spacing">Migration</text>
<text x="766.4" y="219.8" font-size="25.3" font-family="Liberation Serif, Times New Roman, serif" text-anchor="start" fill="#111" textLength="116.6" lengthAdjust="spacing">Migration</text>
<text transform="translate(844.6,142.4) rotate(30.3)" font-size="25" font-family="Liberation Serif, Times New Roman, serif" fill="#111" textLength="111.5" lengthAdjust="spacing">Oxidation</text>
<text x="1158.0" y="105.6" font-size="28.5" font-family="Liberation Serif, Times New Roman, serif" text-anchor="middle" fill="#111" letter-spacing="1.6">42</text>
<text x="1253.5" y="105.6" font-size="28.5" font-family="Liberation Serif, Times New Roman, serif" text-anchor="middle" fill="#111" letter-spacing="1.6">42</text>
<text x="1348.8" y="105.6" font-size="28.5" font-family="Liberation Serif, Times New Roman, serif" text-anchor="middle" fill="#111" letter-spacing="1.6">42</text>
<text x="1157.3" y="178.5" font-size="22.5" font-family="Liberation Serif, Times New Roman, serif" text-anchor="middle" fill="#111" letter-spacing="1">12</text>
<text x="1254" y="164.0" font-size="22.5" font-family="Liberation Serif, Times New Roman, serif" text-anchor="middle" fill="#111" letter-spacing="1">9</text>
<text x="1349.5" y="168.0" font-size="22.5" font-family="Liberation Serif, Times New Roman, serif" text-anchor="middle" fill="#111" letter-spacing="1">8</text>
<text x="1157.3" y="292.0" font-size="22.5" font-family="Liberation Serif, Times New Roman, serif" text-anchor="middle" fill="#111" letter-spacing="1">12</text>
<text x="1252.3" y="278.0" font-size="22.5" font-family="Liberation Serif, Times New Roman, serif" text-anchor="middle" fill="#111" letter-spacing="1">15</text>
<text x="1348" y="363.0" font-size="22.5" font-family="Liberation Serif, Times New Roman, serif" text-anchor="middle" fill="#111" letter-spacing="1">33</text>
<text x="1157.5" y="433.5" font-size="22.5" font-family="Liberation Serif, Times New Roman, serif" text-anchor="middle" fill="#111" letter-spacing="1">18</text>
<text x="1252.3" y="433.5" font-size="22.5" font-family="Liberation Serif, Times New Roman, serif" text-anchor="middle" fill="#111" letter-spacing="1">18</text>
<text transform="translate(37.6,0) rotate(-90) scale(0.89,1)" font-family="Liberation Sans, Arial, sans-serif" fill="#111" stroke="#111" stroke-width="0.5"><tspan x="-419.8" y="0" font-size="38">C</tspan><tspan x="-387.7" y="6.2" font-size="18.5">1</tspan><tspan x="-373.3" y="0" font-size="38">/</tspan><tspan x="-349.8" y="0" font-size="38">(</tspan><tspan x="-332.8" y="0" font-size="38">C</tspan><tspan x="-300.1" y="6.2" font-size="18.5">2</tspan><tspan x="-285.9" y="0" font-size="38">+</tspan><tspan x="-260.6" y="0" font-size="38">C</tspan><tspan x="-228.8" y="6.2" font-size="18.5">3</tspan><tspan x="-215.4" y="0" font-size="38">)</tspan></text>
<text transform="translate(1472,453.85) rotate(-90)" font-size="37.5" font-family="Liberation Sans, Arial, sans-serif" fill="#111" stroke="#111" stroke-width="0.35" textLength="354.2" lengthAdjust="spacing">Number of Samples</text>
<text x="538.5" y="625.8" font-size="45" font-family="Liberation Serif, Times New Roman, serif" text-anchor="start" fill="#111" textLength="22" lengthAdjust="spacingAndGlyphs">δ</text>
<text x="563" y="606.6" font-size="16.5" font-family="Liberation Sans, Arial, sans-serif" text-anchor="start" fill="#111" textLength="22.8" lengthAdjust="spacingAndGlyphs">13</text>
<text x="587" y="625.0" font-size="37.3" font-family="Liberation Sans, Arial, sans-serif" text-anchor="start" fill="#111" textLength="361.3" lengthAdjust="spacing" stroke="#111" stroke-width="0.4">C-methane (‰PDB)</text>
<rect x="73.9" y="651.4" width="70.6" height="38.1" fill="#fff" stroke="#111" stroke-width="3.2"/>
<rect x="285.4" y="651.4" width="70.6" height="38.1" fill="#fff" stroke="#111" stroke-width="3.2"/>
<rect x="496.9" y="651.4" width="70.6" height="38.1" fill="#fff" stroke="#111" stroke-width="3.2"/>
<rect x="708.6" y="651.4" width="70.6" height="38.1" fill="#fff" stroke="#111" stroke-width="3.2"/>
<rect x="920" y="651.4" width="70.6" height="38.1" fill="#f7e626" stroke="#111" stroke-width="3.2"/>
<rect x="1131.5" y="651.4" width="70.6" height="38.1" fill="#6dc3e6" stroke="#111" stroke-width="3.2"/>
<rect x="1343" y="651.4" width="70.6" height="38.1" fill="#26a22e" stroke="#111" stroke-width="3.2"/>
<path d="M109.2,665.6 L115.0,676.3 L103.4,676.3 Z" fill="#5cb80f" stroke="#111" stroke-width="2.4"/>
<circle cx="320.6" cy="670.0" r="6.0" fill="#fbe52a" stroke="#111" stroke-width="2.7"/>
<path d="M532.3,664.1 L538.1,670.0 L532.3,675.9 L526.4,670.0 Z" fill="#dc6628" stroke="#111" stroke-width="2.45"/>
<path d="M719.8,656.1C721.0,655.7 723.0,655.4 724.7,655.7C726.5,656.0 728.4,657.0 730.3,658.1C732.2,659.2 734.1,661.1 736.0,662.6C737.9,664.1 739.6,665.9 741.6,667.0C743.6,668.1 745.7,668.7 748.1,669.0C750.5,669.3 753.4,668.8 756.1,668.9C758.8,669.0 761.9,669.0 764.2,669.4C766.5,669.8 768.7,670.8 769.8,671.5C770.9,672.2 771.1,673.0 771.0,673.9C770.9,674.8 770.4,676.1 769.0,676.7C767.6,677.3 765.0,677.3 762.6,677.5C760.2,677.7 757.2,677.7 754.5,678.1C751.8,678.5 748.9,679.2 746.5,679.9C744.1,680.6 742.2,681.6 740.0,682.3C737.8,683.0 735.5,683.9 733.5,684.0C731.5,684.1 729.6,683.6 727.9,682.7C726.2,681.8 724.6,680.3 723.1,678.7C721.6,677.1 720.1,675.1 719.0,673.1C717.9,671.1 717.1,668.5 716.6,666.6C716.1,664.7 716.1,663.2 716.2,661.8C716.3,660.4 716.8,659.0 717.4,658.1C718.0,657.2 718.6,656.5 719.8,656.1Z" fill="#c6c9c8" stroke="#111" stroke-width="2.5" stroke-dasharray="2.1 1.5"/>
<text x="18.6" y="720.6" font-size="25.4" font-family="Liberation Serif, Times New Roman, serif" text-anchor="start" fill="#111" textLength="180.3" lengthAdjust="spacing">Spring Samples</text>
<text x="220.6" y="720.6" font-size="25.4" font-family="Liberation Serif, Times New Roman, serif" text-anchor="start" fill="#111" textLength="198.2" lengthAdjust="spacing">Summer Samples</text>
<text x="435.8" y="720.6" font-size="25.4" font-family="Liberation Serif, Times New Roman, serif" text-anchor="start" fill="#111" textLength="196.3" lengthAdjust="spacing">Autumn Samples</text>
<text x="844.6" y="720.6" font-size="25.4" font-family="Liberation Serif, Times New Roman, serif" text-anchor="start" fill="#111" textLength="223" lengthAdjust="spacingAndGlyphs">Thermogenic Methane</text>
<text x="1085" y="720.6" font-size="25.4" font-family="Liberation Serif, Times New Roman, serif" text-anchor="start" fill="#111" textLength="163" lengthAdjust="spacingAndGlyphs">Mixing Methane</text>
<text x="1289" y="720.6" font-size="25.4" font-family="Liberation Serif, Times New Roman, serif" text-anchor="start" fill="#111" textLength="178.5" lengthAdjust="spacingAndGlyphs">Bacterial Methane</text>
<text x="659.6" y="720.5" font-size="25" font-family="Liberation Serif, Times New Roman, serif" text-anchor="start" fill="#111" textLength="61.5" lengthAdjust="spacing">NGH</text>
<text x="734.6" y="720.5" font-size="25" font-family="Liberation Serif, Times New Roman, serif" text-anchor="start" fill="#111" textLength="96" lengthAdjust="spacing">Samples</text>
</svg>
</body></html>
